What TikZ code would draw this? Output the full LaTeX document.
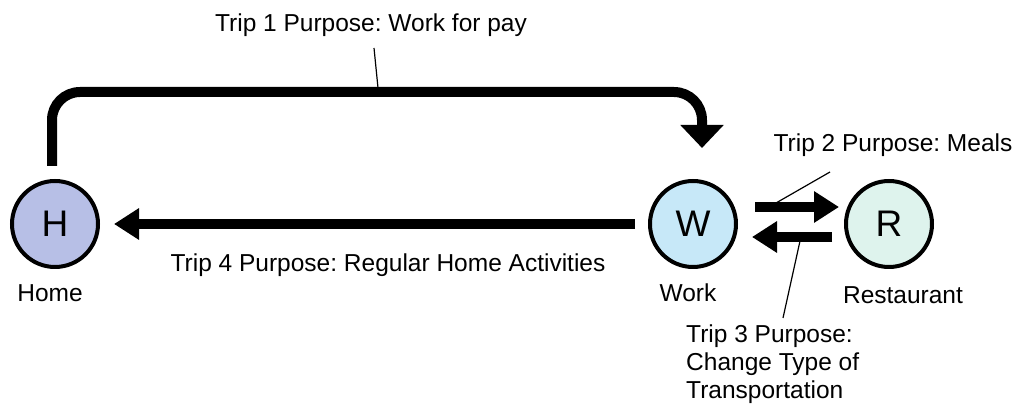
\documentclass[tikz,border=0pt]{standalone}
\usepackage{fontspec}
\setmainfont{Liberation Sans}
\usetikzlibrary{arrows.meta}
\frenchspacing
\definecolor{homefill}{RGB}{183,191,230}
\definecolor{workfill}{RGB}{199,232,248}
\definecolor{restfill}{RGB}{222,243,237}
\tikzset{
  place/.style={circle, draw=black, line width=4pt, minimum size=86pt, inner sep=0pt, font=\fontsize{37}{40}\selectfont},
  lbl/.style={font=\fontsize{24.5}{28}\selectfont, inner sep=0pt, anchor=base},
  trip/.style={line width=9.5pt, -{Triangle[length=25pt, width=30pt]}},
  bigtrip/.style={line width=10pt, -{Triangle[length=23pt, width=42pt]}},
  leader/.style={line width=1.2pt}
}
\begin{document}
\begin{tikzpicture}[x=1pt, y=-1pt]
\useasboundingbox (0,0) rectangle (1021,411);
\node[place, fill=homefill] (H) at (55,224) {H};
\node[place, fill=workfill] (W) at (693,224) {W};
\node[place, fill=restfill] (R) at (889,224) {R};
\node[lbl] (homel) at (50,302) {Home};
\node[lbl] (workl) at (688,302) {Work};
\node[lbl] (restl) at (903,304) {Restaurant};
% trip 1
\coordinate (t1s) at (52,166);
\coordinate (t1e) at (702,148);
\draw[bigtrip, rounded corners=28pt] (t1s) -- (52,92) -- (702,92) -- (t1e);
\node[lbl] (t1) at (371,32) {Trip 1 Purpose: Work for pay};
\coordinate (t1a) at (374,48);
\coordinate (t1b) at (378,88);
\draw[leader] (t1a) -- (t1b);
% trip 4
\draw[trip] ([xshift=-13pt]W.west) -- ([xshift=14pt]H.east);
\node[lbl] (t4) at (388,272) {Trip 4 Purpose: Regular Home Activities};
% trip 2 and 3
\draw[trip] ([xshift=17pt,yshift=17pt]W.east) coordinate (t2s) -- ([xshift=-5pt,yshift=17pt]R.west) coordinate (t2e);
\draw[trip] ([xshift=-12pt,yshift=-13pt]R.west) coordinate (t3s) -- ([xshift=14pt,yshift=-13pt]W.east) coordinate (t3e);
\node[lbl] (t2) at (893,152) {Trip 2 Purpose: Meals};
\coordinate (t2a) at (830,172);
\coordinate (t2b) at (776,203);
\draw[leader] (t2a) -- (t2b);
\node[lbl, anchor=base west] (t3) at (686,343) {Trip 3 Purpose:};
\node[lbl, anchor=base west] (t3b) at (686,371) {Change Type of};
\node[lbl, anchor=base west] (t3c) at (686,399) {Transportation};
\coordinate (t3a) at (800,241);
\coordinate (t3z) at (783,318);
\draw[leader] (t3a) -- (t3z);
\end{tikzpicture}
\end{document}
